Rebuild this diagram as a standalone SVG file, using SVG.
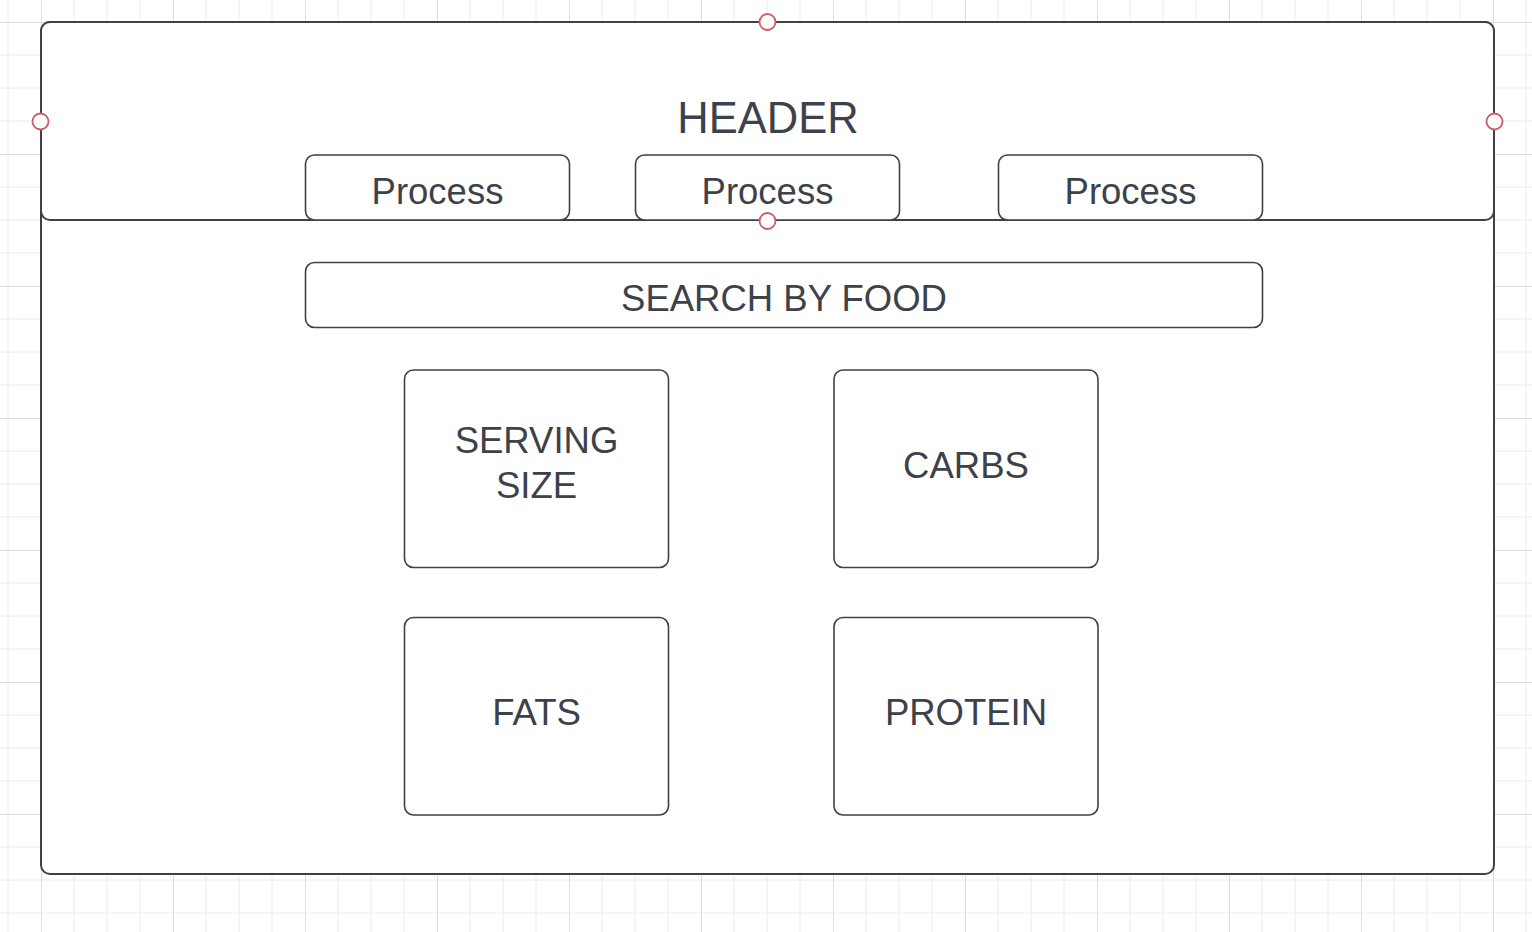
<svg xmlns="http://www.w3.org/2000/svg" width="1532" height="932" viewBox="0 0 1532 932">
  <defs>
    <pattern id="grid" patternUnits="userSpaceOnUse" x="41" y="22" width="132" height="132">
      <path d="M33 0V132M66 0V132M99 0V132M0 33H132M0 66H132M0 99H132" stroke="#ececec" stroke-width="1" fill="none"/>
      <path d="M0.5 0V132M0 0.5H132" stroke="#dedede" stroke-width="1" fill="none"/>
    </pattern>
    <style>
      .box { fill: #ffffff; stroke: #3d4148; stroke-width: 1.6; }
      .frame { fill: #ffffff; stroke: #3d4148; stroke-width: 2; }
      .lbl { font-family: "Liberation Sans", Arial, sans-serif; fill: #3d424a; text-anchor: middle; }
      .pt { fill: #ffffff; stroke: #d25a62; stroke-width: 1.8; }
    </style>
  </defs>
  <rect x="0" y="0" width="1532" height="932" fill="#ffffff"/>
  <rect x="0" y="0" width="1532" height="932" fill="url(#grid)"/>

  <g id="container">
    <rect class="frame" x="41" y="22" width="1453" height="852" rx="9"/>
  </g>
  <g id="header">
    <rect class="frame" x="41" y="22" width="1453" height="198" rx="9"/>
    <text class="lbl" x="768" y="133" font-size="43.5">HEADER</text>
  </g>
  <g id="process1">
    <rect class="box" x="305.5" y="155" width="264" height="65" rx="9"/>
    <text class="lbl" x="437.5" y="204" font-size="36.5">Process</text>
  </g>
  <g id="process2">
    <rect class="box" x="635.5" y="155" width="264" height="65" rx="9"/>
    <text class="lbl" x="767.5" y="204" font-size="36.5">Process</text>
  </g>
  <g id="process3">
    <rect class="box" x="998.5" y="155" width="264" height="65" rx="9"/>
    <text class="lbl" x="1130.5" y="204" font-size="36.5">Process</text>
  </g>
  <g id="search">
    <rect class="box" x="305.5" y="262.5" width="957" height="65" rx="9"/>
    <text class="lbl" x="784" y="311" font-size="36.5">SEARCH BY FOOD</text>
  </g>
  <g id="serving">
    <rect class="box" x="404.5" y="370" width="264" height="197.5" rx="9"/>
    <text class="lbl" x="536.5" y="453" font-size="36.5">SERVING</text>
    <text class="lbl" x="536.5" y="498" font-size="36.5">SIZE</text>
  </g>
  <g id="carbs">
    <rect class="box" x="834" y="370" width="264" height="197.5" rx="9"/>
    <text class="lbl" x="966" y="478" font-size="36.5">CARBS</text>
  </g>
  <g id="fats">
    <rect class="box" x="404.5" y="617.5" width="264" height="197.5" rx="9"/>
    <text class="lbl" x="536.5" y="725" font-size="36.5">FATS</text>
  </g>
  <g id="protein">
    <rect class="box" x="834" y="617.5" width="264" height="197.5" rx="9"/>
    <text class="lbl" x="966" y="725" font-size="36.5">PROTEIN</text>
  </g>
  <g id="connectors">
    <circle class="pt" cx="767.5" cy="22" r="8"/>
    <circle class="pt" cx="40.5" cy="121.5" r="8"/>
    <circle class="pt" cx="1494.5" cy="121.5" r="8"/>
    <circle class="pt" cx="767.5" cy="221" r="8"/>
  </g>
</svg>
